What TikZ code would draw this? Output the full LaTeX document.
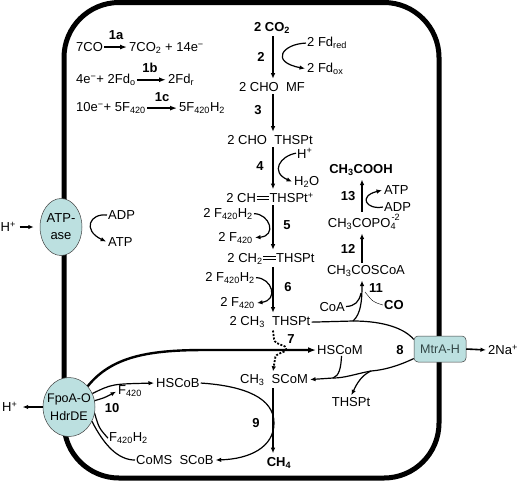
\documentclass[tikz,border=0pt]{standalone}
\usepackage{fontspec}
\setmainfont{Liberation Sans}
\usetikzlibrary{arrows.meta,shapes.geometric}
\definecolor{membfill}{RGB}{188,224,224}
\definecolor{membtext}{RGB}{50,70,70}
\newcommand\dbl{\kern0.6pt\rlap{\raisebox{0.24em}{\rule{0.95em}{0.6pt}}}\raisebox{0.46em}{\rule{0.95em}{0.6pt}}\kern0.6pt}
\newcommand\sbs[1]{\textsubscript{#1}}
\newcommand\sps[1]{\textsuperscript{#1}}
\begin{document}
\begin{tikzpicture}[x=1pt,y=-1pt,
 txt/.style={font=\fontsize{13}{17}\selectfont, inner sep=1pt},
 bf/.style={font=\fontsize{13}{15}\selectfont\bfseries, inner sep=1pt},
 col/.style={txt, inner xsep=1pt, inner ysep=2.5pt, anchor=base},
 arr/.style={-{Latex[length=5.5pt,width=4.5pt]}, line width=1.2pt, shorten >=1pt},
 rxn/.style={-{Latex[length=7pt,width=5pt]}, line width=2pt, shorten >=1pt},
 ln/.style={line width=1.2pt},
 membshape/.style={draw=black!75, line width=0.5pt, fill=membfill},
 dotarr/.style={-{Latex[length=5pt,width=4.5pt]}, line width=1.8pt, dash pattern=on 2pt off 1.5pt},
]
\useasboundingbox (0,0) rectangle (518,483);

% cell
\draw[line width=5pt, rounded corners=55pt] (64,2.5) rectangle (439,478);

% membrane proteins
\node[membshape, ellipse, minimum width=42pt, minimum height=57pt, inner sep=0pt] (atpase) at (61,227) {};
\node[txt, align=center] at (atpase) {ATP-\\ase};
\node[membshape, ellipse, minimum width=52pt, minimum height=59pt, inner sep=0pt] (fpo) at (69,407) {};
\node[txt, align=center, font=\fontsize{12.5}{18}\selectfont] at (fpo) {FpoA-O\\HdrDE};
\node[membshape, rounded corners=4pt, minimum width=52pt, minimum height=26pt, txt, font=\fontsize{12.5}{15}\selectfont, text=membtext] (mtr) at (440,349) {MtrA-H};

% top-left reactions
\node[txt,anchor=base west] (co7) at (75,51.5) {7CO};
\node[txt,anchor=base west] (co2b) at (128,51.5) {7CO\sbs{2} + 14e\sps{−}};
\node[bf] (l1a) at (116,35) {1a};
\draw[rxn] (co7.east) -- (co7.east -| co2b.west);
\node[txt,anchor=base west] (fdo4) at (75,83.5) {4e\sps{−}+ 2Fd\sbs{o}};
\node[txt,anchor=base west] (fdr2) at (167,83.5) {2Fd\sbs{r}};
\node[bf] (l1b) at (150,68) {1b};
\draw[rxn] (fdo4.east) -- (fdo4.east -| fdr2.west);
\node[txt,anchor=base west] (e10) at (75,111.5) {10e\sps{−}+ 5F\sbs{420}};
\node[txt,anchor=base west] (f5) at (178,111.5) {5F\sbs{420}H\sbs{2}};
\node[bf] (l1c) at (162,97) {1c};
\draw[rxn] (e10.east) -- (e10.east -| f5.west);

% central column
\coordinate (xm) at (273,0);
\node[bf,anchor=base,inner ysep=2.5pt] (nco2) at (272,31.5) {2 CO\sbs{2}};
\node[col] (nmf) at (272,91.5) {2 CHO~~MF};
\node[col] (ntha) at (270,144.5) {2 CHO~~THSPt};
\node[col] (nch) at (270,202.5) {2 CH\dbl THSPt\sps{+}};
\node[col] (nch2) at (271,262.5) {2 CH\sbs{2}\dbl THSPt};
\node[col] (nch3) at (270,325.5) {2 CH\sbs{3}~~THSPt};
\node[col] (nscom) at (274,383) {CH\sbs{3}~~SCoM};
\node[bf,anchor=base,inner ysep=2.5pt] (nch4) at (279,466) {CH\sbs{4}};

\draw[arr] (nco2.south -| xm) -- (nmf.north -| xm);
\node[bf] (l2) at (261,57) {2};
\draw[arr] (nmf.south -| xm) -- (ntha.north -| xm);
\node[bf] (l3) at (258,110) {3};
\draw[arr] (ntha.south -| xm) -- (nch.north -| xm);
\node[bf] (l4) at (260,166) {4};
\draw[arr] (nch.south -| xm) -- (nch2.north -| xm);
\node[bf] (l5) at (287,225) {5};
\draw[arr] (nch2.south -| xm) -- (nch3.north -| xm);
\node[bf] (l6) at (288,287) {6};

\node[txt,anchor=base west] (fdred) at (306,46.5) {2 Fd\sbs{red}};
\node[txt,anchor=base west] (fdox) at (306,72.5) {2 Fd\sbs{ox}};
\draw[arr] (fdred.west) .. controls (282,44) and (270,62) .. (fdox.west);
\node[txt,anchor=base west] (hp) at (296,158) {H\sps{+}};
\node[txt,anchor=base west] (h2o) at (293,185.5) {H\sbs{2}O};
\draw[arr] (hp.west) .. controls (280,156) and (270,172) .. (h2o.west);

\node[txt,anchor=base east] (fa1) at (254,217) {2 F\sbs{420}H\sbs{2}};
\node[txt,anchor=base east] (fa2) at (254,241) {2 F\sbs{420}};
\draw[arr] (fa1.east) .. controls (270,214) and (277,236) .. (fa2.east);
\node[txt,anchor=base east] (fb1) at (256,281) {2 F\sbs{420}H\sbs{2}};
\node[txt,anchor=base east] (fb2) at (256,306.5) {2 F\sbs{420}};
\draw[arr] (fb1.east) .. controls (272,278) and (279,300) .. (fb2.east);

% right column
\coordinate (xr) at (362,0);
\node[bf,anchor=base,inner ysep=2.5pt] (acet) at (361,173.5) {CH\sbs{3}COOH};
\node[col] (acp) at (364,227.5) {CH\sbs{3}COPO\sbs{4}\kern-0.35em\raisebox{0.2em}{\sps{-2}}};
\node[col] (acoa) at (366,274.5) {CH\sbs{3}COSCoA};
\draw[arr] (acp.north -| xr) -- (acet.south -| xr);
\node[bf] (l13) at (348,196) {13};
\draw[arr] (acoa.north -| xr) -- (acp.south -| xr);
\node[bf] (l12) at (348,249) {12};
\node[txt,anchor=base west] (atp13) at (383,194.5) {ATP};
\node[txt,anchor=base west] (adp13) at (383,211.5) {ADP};
\draw[arr] (adp13.west) .. controls (366,210) and (358,196) .. (atp13.west);

\coordinate (j3) at (353,321);
\node[txt,anchor=base east] (coa) at (346,311) {CoA};
\node[bf,anchor=base west] (co) at (383,309.5) {CO};
\node[bf] (l11) at (376,288) {11};
\draw[ln] (nch3.east) -- (j3) .. controls (385,321) and (405,329) .. (mtr.160);
\draw[arr] (j3) .. controls (361,314) and (362,300) .. (acoa.south -| xr);
\draw[ln] (coa.east) .. controls (355,306) and (359,302) .. (361,293);
\draw[line width=0.4pt] (co.west) .. controls (373,302) .. (365,292);

% MtrA
\node[txt,anchor=west] (na) at (487,350) {2Na\sps{+}};
\draw[arr, line width=1.6pt] (mtr.east) -- (na.west);
\node[bf] (l8) at (400,350) {8};
\node[txt,anchor=base west] (hscom) at (316,354.5) {HSCoM};
\node[txt,anchor=base] (thspt) at (351,406.5) {THSPt};
\coordinate (j1) at (371,371);
\coordinate (j2) at (333,378);
\draw[arr] (mtr.200) .. controls (398,366) and (384,370) .. (j1) .. controls (355,374) and (345,378) .. (j2) -- (nscom.east);
\draw[arr] (j1) .. controls (362,375) and (357,383) .. (thspt.north);
\draw[ln] (hscom.-75) .. controls (341,368) and (339,376) .. (j2);

% HSCoM thick arrow
\draw[-{Latex[length=8pt,width=6pt]}, line width=2.4pt] (fpo.48) .. controls (112,356) and (150,350) .. (205,350) -- (hscom.west);

% dotted arrow 7
\draw[dotarr] (nch3.south -| xm) -- (274,339) .. controls (275,346) and (287,344) .. (286,349) .. controls (285,354) and (275,352) .. (275,359) -- (nscom.north -| xm);
\node[bf] (l7) at (291,339) {7};

% FpoA side
\node[txt,anchor=base west] (hscob) at (155,387.5) {HSCoB};
\draw[arr] (fpo.30) .. controls (112,384) .. (hscob.west);
\node[txt,anchor=base west] (f420) at (117,394.5) {F\sbs{420}};
\draw[arr] (fpo.14) .. controls (104,398) .. (f420.west);
\node[bf] (l10) at (112,408) {10};
\node[txt,anchor=base west] (f420h2) at (108,441.5) {F\sbs{420}H\sbs{2}};
\draw[ln] (fpo.-14) .. controls (99,428) .. (f420h2.west);
\node[txt,anchor=base west] (coms) at (135,464.5) {CoMS~~SCoB};
\draw[ln] (fpo.-32) .. controls (104,445) and (118,460) .. (coms.west);
\draw[arr] (hscob.east) .. controls (245,386) and (274,398) .. (274,423) .. controls (274,447) and (250,459) .. (coms.east);
\node[bf] (l9) at (256,423) {9};
\draw[arr] (nscom.south -| xm) -- (nch4.north -| xm);

\node[txt,anchor=west] (hp2) at (1,407) {H\sps{+}};
\draw[arr, line width=1.6pt, shorten >=4pt] (fpo.west) -- (hp2.east);

% ATPase side
\node[txt,anchor=west,inner sep=0.5pt] (hp1) at (0,227) {H\sps{+}};
\draw[arr, line width=1.6pt, shorten >=6pt, shorten <=3pt] (hp1.east) -- (atpase.west);
\node[txt,anchor=base west] (adp) at (107,219.5) {ADP};
\node[txt,anchor=base west] (atp) at (107,246.5) {ATP};
\draw[arr] (adp.west) .. controls (90,213) and (82,230) .. (atp.west);
\end{tikzpicture}
\end{document}
